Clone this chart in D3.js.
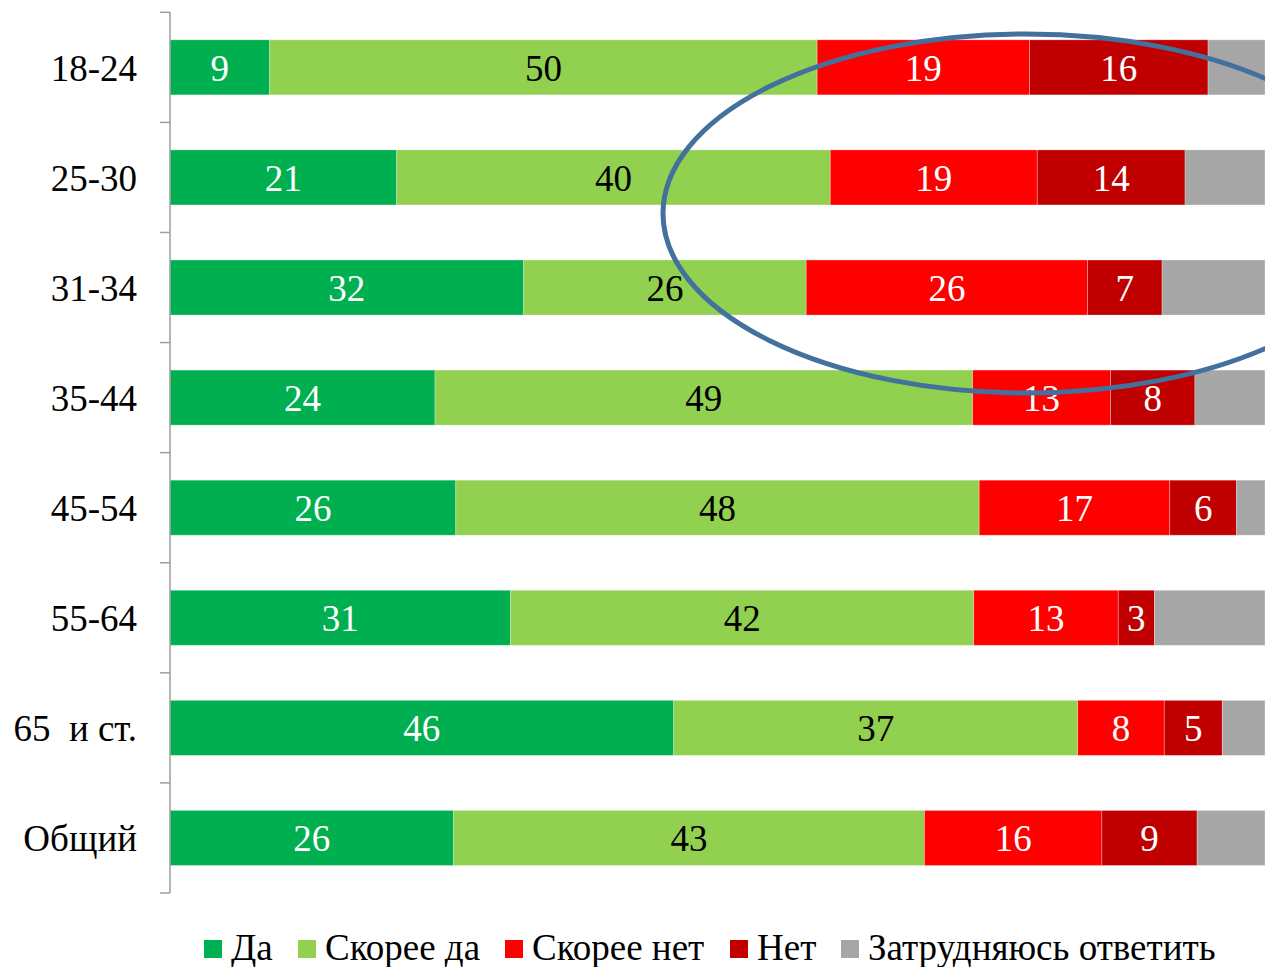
<!DOCTYPE html>
<html>
<head>
<meta charset="utf-8">
<script src="https://cdn.jsdelivr.net/npm/d3@7"></script>
<style>
  html, body { margin: 0; padding: 0; background: #fff; }
</style>
</head>
<body>
<svg id="chart" width="1265" height="967"></svg>
<script>
// ---- data ----
const categories = ["18-24", "25-30", "31-34", "35-44", "45-54", "55-64", "65  и ст.", "Общий"];
const seriesNames = ["Да", "Скорее да", "Скорее нет", "Нет", "Затрудняюсь ответить"];
const da        = [9.1, 20.7, 32.3, 24.2, 26.1, 31.1, 46.0, 25.9];
const skoreeDa  = [50.0, 39.6, 25.8, 49.1, 47.8, 42.3, 36.9, 43.0];
const skoreeNet = [19.4, 18.9, 25.7, 12.6, 17.4, 13.2, 7.9, 16.2];
const net       = [16.3, 13.5, 6.8, 7.7, 6.1, 3.3, 5.3, 8.7];
const zatr      = [5.2, 7.3, 9.4, 6.4, 2.6, 10.1, 3.9, 6.2];
const seriesValues = [da, skoreeDa, skoreeNet, net, zatr];
const colors = ["#00B050", "#92D050", "#FF0000", "#C00000", "#A6A6A6"];
const labelColors = ["#ffffff", "#000000", "#ffffff", "#ffffff", null];

const FONT = "'Liberation Serif', 'Times New Roman', 'DejaVu Serif', serif";
const FS = 37;

// ---- layout ----
const svg = d3.select("#chart");
const x = d3.scaleLinear().domain([0, 100]).range([170, 1265]);
const y = d3.scaleBand().domain(categories).range([12.3, 893]).paddingInner(0.5).paddingOuter(0.25);

const rows = categories.map((c, i) => {
  const o = { cat: c };
  seriesNames.forEach((s, j) => o[s] = seriesValues[j][i]);
  return o;
});
const stack = d3.stack().keys(seriesNames)(rows);

const g = svg.append("g");
stack.forEach((layer, j) => {
  const lg = g.append("g");
  lg.selectAll("rect").data(layer).join("rect")
    .attr("x", d => x(d[0]))
    .attr("y", d => y(d.data.cat))
    .attr("width", d => x(d[1]) - x(d[0]))
    .attr("height", y.bandwidth())
    .attr("fill", colors[j])
    .attr("stroke", "rgba(255,255,255,0.35)")
    .attr("stroke-width", 0.8);
  if (labelColors[j]) {
    lg.selectAll("text").data(layer).join("text")
      .attr("x", d => (x(d[0]) + x(d[1])) / 2)
      .attr("y", d => y(d.data.cat) + y.bandwidth() / 2)
      .attr("dy", "0.36em")
      .attr("text-anchor", "middle")
      .attr("font-family", FONT)
      .attr("font-size", FS)
      .attr("fill", labelColors[j])
      .text(d => d3.format(".0f")(d[1] - d[0]));
  }
});

// ---- axis ----
const axisColor = "#9e9e9e";
const step = y.step();
const y0 = y.range()[0];
const boundaries = d3.range(categories.length + 1).map(i => y0 + i * step);
svg.append("line")
  .attr("x1", 170).attr("x2", 170)
  .attr("y1", boundaries[0]).attr("y2", boundaries[boundaries.length - 1])
  .attr("stroke", axisColor).attr("stroke-width", 1.5);
svg.selectAll(".tick").data(boundaries).join("line")
  .attr("x1", 160).attr("x2", 170)
  .attr("y1", d => d).attr("y2", d => d)
  .attr("stroke", axisColor).attr("stroke-width", 1.5);
svg.selectAll(".cat").data(categories).join("text")
  .attr("x", 137)
  .attr("y", d => y(d) + y.bandwidth() / 2)
  .attr("dy", "0.36em")
  .attr("text-anchor", "end")
  .attr("font-family", FONT)
  .attr("font-size", FS)
  .attr("fill", "#000")
  .style("white-space", "pre")
  .text(d => d);

// ---- annotation ellipse ----
svg.append("ellipse")
  .attr("cx", 1026).attr("cy", 213.5)
  .attr("rx", 363).attr("ry", 179.5)
  .attr("fill", "none")
  .attr("stroke", "#41719C")
  .attr("stroke-width", 5);

// ---- legend ----
const legendX = [204, 298, 505, 730, 841];
const lg = svg.append("g");
seriesNames.forEach((s, j) => {
  lg.append("rect")
    .attr("x", legendX[j]).attr("y", 940)
    .attr("width", 18).attr("height", 18)
    .attr("fill", colors[j]);
  lg.append("text")
    .attr("x", legendX[j] + 27).attr("y", 960)
    .attr("font-family", FONT)
    .attr("font-size", FS)
    .attr("fill", "#000")
    .text(s);
});
</script>
</body>
</html>
